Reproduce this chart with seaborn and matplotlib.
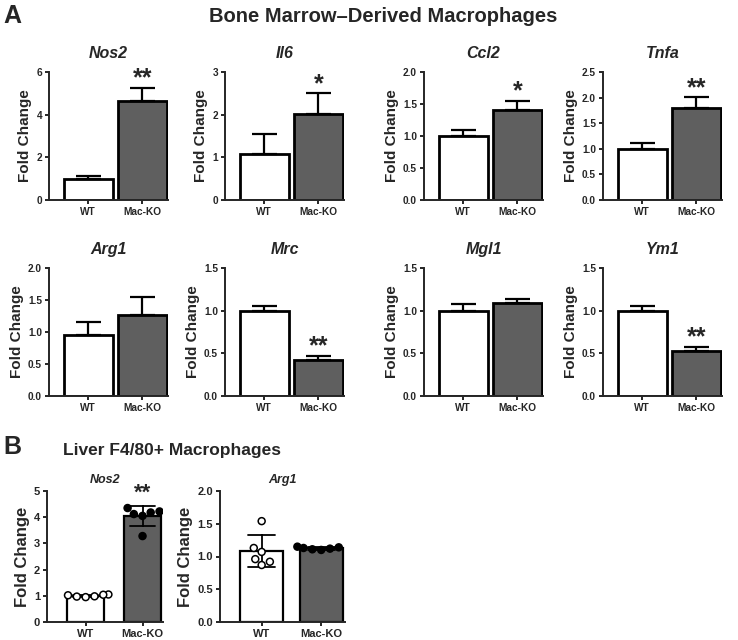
"""
Macrophage gene expression: WT vs Mac-KO fold change
Panel A: bone marrow-derived macrophages (mean + SEM)
Panel B: liver F4/80+ macrophages (individual mice, mean +/- SD)
"""

import numpy as np
import pandas as pd
import matplotlib
matplotlib.use('Agg')
import matplotlib.pyplot as plt
import seaborn as sns

# --- 0. Data ---
groups = ['WT', 'Mac-KO']

# Panel A: means and upper error bars
genes_a = ['Nos2', 'Il6', 'Ccl2', 'Tnfa', 'Arg1', 'Mrc', 'Mgl1', 'Ym1']
wt_mean = [1.00, 1.07, 1.00, 1.00, 0.96, 1.00, 1.00, 1.00]
ko_mean = [4.62, 2.02, 1.41, 1.79, 1.27, 0.42, 1.09, 0.53]
wt_err = [0.13, 0.48, 0.09, 0.11, 0.19, 0.06, 0.08, 0.06]
ko_err = [0.63, 0.48, 0.14, 0.22, 0.28, 0.05, 0.05, 0.05]
y_max_a = [6, 3, 2.0, 2.5, 2.0, 1.5, 1.5, 1.5]
y_step_a = [2, 1, 0.5, 0.5, 0.5, 0.5, 0.5, 0.5]
stars_a = ['**', '*', '*', '**', '', '**', '', '**']

# Panel B: individual animals
nos2_wt = [1.02, 0.95, 1.05, 0.97, 1.04, 0.98]
nos2_ko = [4.22, 4.12, 4.05, 4.18, 4.35, 3.28]
arg1_wt = [1.54, 1.13, 1.07, 0.96, 0.92, 0.87]
arg1_ko = [1.14, 1.11, 1.15, 1.10, 1.13, 1.12]

# --- 1. Style ---
sns.set_style('ticks')
plt.rcParams['font.family'] = ['Liberation Sans', 'DejaVu Sans']
plt.rcParams['font.weight'] = 'bold'
plt.rcParams['axes.linewidth'] = 1.4
plt.rcParams['xtick.major.width'] = 1.4
plt.rcParams['ytick.major.width'] = 1.4
plt.rcParams['xtick.major.size'] = 3
plt.rcParams['ytick.major.size'] = 3

W, H = 738, 640
fig = plt.figure(figsize=(W / 100, H / 100), dpi=100)
palette = {'WT': 'white', 'Mac-KO': '#5f5f5f'}


def add_ax(left, top, right, bottom):
    # axes placed by pixel box (left, top, right, bottom)
    return fig.add_axes([left / W, 1 - bottom / H, (right - left) / W, (bottom - top) / H])


def finish(ax, ymax, step, fmt, tick_fs, label_fs):
    ax.set_ylim(0, ymax)
    ticks = np.arange(0, ymax + step / 2, step)
    ax.set_yticks(ticks)
    ax.set_yticklabels([fmt.format(t) for t in ticks], fontsize=tick_fs, fontweight='bold')
    ax.set_xticks([0, 1])
    ax.set_xticklabels(groups, fontsize=tick_fs, fontweight='bold')
    ax.set_xlabel('')
    ax.set_ylabel('Fold Change', fontsize=label_fs, fontweight='bold', labelpad=3)
    ax.tick_params(axis='both', pad=2)
    sns.despine(ax=ax)


# --- 2. Panel A ---
col_left = [49, 225, 424, 603]
row_box = [(72, 200), (268, 396)]

for i, gene in enumerate(genes_a):
    r, c = divmod(i, 4)
    top, bottom = row_box[r]
    ax = add_ax(col_left[c], top, col_left[c] + 119, bottom)
    df = pd.DataFrame({'group': groups, 'fold': [wt_mean[i], ko_mean[i]]})
    sns.barplot(data=df, x='group', y='fold', hue='group', palette=palette,
                edgecolor='black', linewidth=2, width=0.9, legend=False, ax=ax)
    means = [wt_mean[i], ko_mean[i]]
    errs = [wt_err[i], ko_err[i]]
    ax.errorbar([0, 1], means, yerr=[[0, 0], errs], fmt='none', ecolor='black',
                elinewidth=1.6, capsize=9, capthick=1.6, zorder=1)
    ax.set_xlim(-0.72, 1.47)
    fmt = '{:.0f}' if y_step_a[i] >= 1 else '{:.1f}'
    finish(ax, y_max_a[i], y_step_a[i], fmt, 7.3, 11)
    ax.set_title(gene, fontsize=11.5, fontweight='bold', fontstyle='italic', pad=10)
    if stars_a[i]:
        ax.annotate(stars_a[i], (1, means[1] + errs[1]), xytext=(0, -2),
                    textcoords='offset points', ha='center', va='bottom',
                    fontsize=18, fontweight='bold')

# --- 3. Panel B ---
b_panels = [
    ('Nos2', nos2_wt, nos2_ko, 5, 1, '{:.0f}', (47, 491, 163, 622), (-0.68, 1.36), 0.66, '**'),
    ('Arg1', arg1_wt, arg1_ko, 2.0, 0.5, '{:.1f}', (220, 491, 345, 622), (-0.7, 1.4), 0.72, ''),
]
for gene, wt, ko, ymax, step, fmt, box, xlim, bw, star in b_panels:
    ax = add_ax(*box)
    df = pd.DataFrame({'group': ['WT'] * len(wt) + ['Mac-KO'] * len(ko), 'fold': wt + ko})
    sns.barplot(data=df, x='group', y='fold', hue='group', palette=palette,
                edgecolor='black', linewidth=1.6, width=bw, errorbar='sd',
                err_kws={'color': 'black', 'linewidth': 1.3}, capsize=0.45,
                legend=False, ax=ax)
    sns.swarmplot(data=df, x='group', y='fold', hue='group',
                  palette={'WT': 'white', 'Mac-KO': 'black'}, edgecolor='black',
                  linewidth=1.1, size=5.0, legend=False, ax=ax, zorder=3)
    ax.set_xlim(*xlim)
    finish(ax, ymax, step, fmt, 8, 12)
    ax.set_title(gene, fontsize=9, fontweight='bold', fontstyle='italic', pad=6)
    if star:
        ax.annotate(star, (1, max(ko)), xytext=(0, 3),
                    textcoords='offset points', ha='center', va='bottom',
                    fontsize=16, fontweight='bold')

# --- 4. Panel labels and headings ---
fig.text(3 / W, 1 - 16 / H, 'A', fontsize=18, fontweight='bold', va='center')
fig.text(383 / W, 1 - 16 / H, 'Bone Marrow\u2013Derived Macrophages',
         fontsize=14.5, fontweight='bold', ha='center', va='center')
fig.text(3 / W, 1 - 447 / H, 'B', fontsize=18, fontweight='bold', va='center')
fig.text(63 / W, 1 - 450 / H, 'Liver F4/80+ Macrophages',
         fontsize=12.5, fontweight='bold', ha='left', va='center')

fig.savefig('out.png', dpi=100)
